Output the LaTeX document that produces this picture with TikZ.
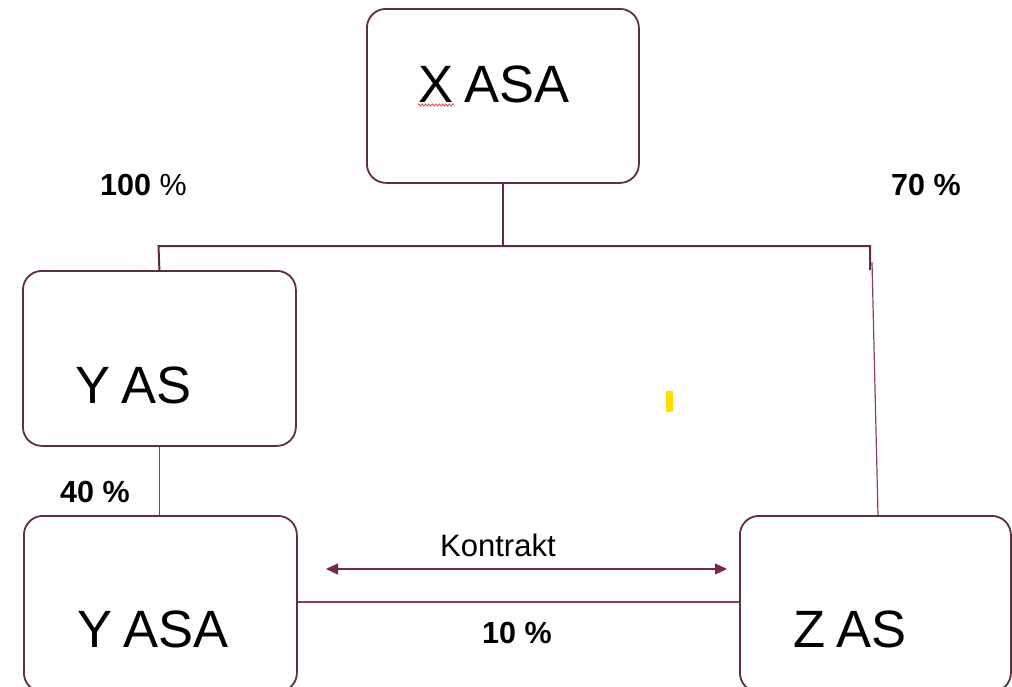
\documentclass[tikz,border=0pt]{standalone}
\usepackage{fontspec}
\setmainfont{Liberation Sans}
\usetikzlibrary{arrows.meta,decorations.pathmorphing}
\definecolor{boxc}{RGB}{92,48,62}
\definecolor{linec}{RGB}{100,40,62}
\definecolor{thinc}{RGB}{135,65,90}
\definecolor{arrowc}{RGB}{118,40,68}
\definecolor{spellred}{RGB}{235,70,70}
\definecolor{markyel}{RGB}{255,222,0}
\begin{document}
\begin{tikzpicture}[x=1pt,y=-1pt,
  entity/.style={draw=boxc, line width=1.8pt, rounded corners=19pt, inner sep=0pt, anchor=north west},
  bigtext/.style={font=\fontsize{52.5}{52.5}\selectfont, inner sep=0pt, anchor=base west},
  pct/.style={font=\fontsize{30.5}{30.5}\selectfont\bfseries, inner sep=0pt, anchor=base west},
  conn/.style={draw=linec, line width=2pt},
  thinconn/.style={draw=thinc, line width=1.2pt},
]
\useasboundingbox (0,0) rectangle (1012,686);
\clip (0,0) rectangle (1012,686);
% boxes
\node[entity, minimum width=272pt, minimum height=174pt] (xasa) at (366,8) {};
\node[entity, minimum width=273pt, minimum height=175pt] (yas) at (22,270) {};
\node[entity, minimum width=273pt, minimum height=176pt] (yasa) at (23,515) {};
\node[entity, minimum width=271pt, minimum height=176pt] (zas) at (739,515) {};
% box texts
\node[bigtext] (txa) at (418,102) {X\hspace{-0.06em} ASA};
\node[bigtext] (tya) at (75,403) {Y\hspace{-0.07em} AS};
\node[bigtext] (tyb) at (77,647) {Y\hspace{-0.07em} ASA};
\node[bigtext] (tz) at (793,647) {Z\hspace{-0.06em} AS};
% spell-check underline
\draw[spellred, line width=0.8pt, decorate, decoration={zigzag, amplitude=1.1pt, segment length=3.4pt}] (418,105) -- (454,105);
% connectors
\coordinate (hl) at (158.5,246);
\coordinate (hr) at (870,246);
\coordinate (hd) at (870,270);
\coordinate (rt) at (872,262);
\draw[conn] (xasa.south) -- (xasa.south |- hl);
\draw[conn] (yas.north) -- (hl) -- (hr) -- (hd);
\draw[thinconn] (rt) -- ([xshift=139pt]zas.north west);
\draw[thinconn] (yas.south) -- (yas.south |- yasa.north);
\draw[thinconn] ([yshift=-87pt]yasa.north east) -- ([yshift=-87pt]zas.north west);
% contract arrow
\coordinate (kl) at (326,569);
\coordinate (kr) at (727,569);
\draw[draw=arrowc, line width=1.2pt, {Triangle[length=12pt,width=11pt,fill=arrowc]}-{Triangle[length=12pt,width=11pt,fill=arrowc]}] (kl) -- (kr);
\node[font=\fontsize{31}{31}\selectfont, inner sep=0pt, anchor=base west] (kontrakt) at (440,556) {Kontrakt};
% percentages
\node[pct] (p100) at (100,195) {100 \mdseries\%};
\node[pct] (p70) at (891,195) {70 \%};
\node[pct] (p40) at (60,502) {40 \%};
\node[pct] (p10) at (482,643) {10 \%};
% yellow mark
\fill[markyel] (666,391) rectangle (673,412);
\end{tikzpicture}
\end{document}
